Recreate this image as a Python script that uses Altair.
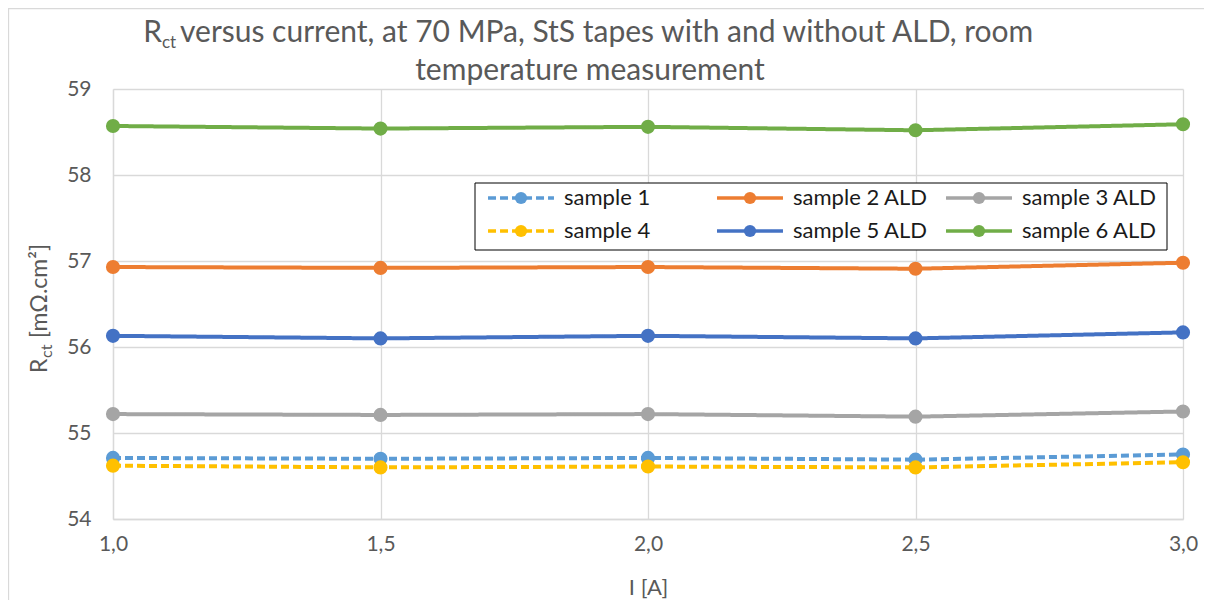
import altair as alt
import pandas as pd

# ---- data ----
currents = [1.0, 1.5, 2.0, 2.5, 3.0]
series_names = ["sample 1", "sample 2 ALD", "sample 3 ALD", "sample 4", "sample 5 ALD", "sample 6 ALD"]
sample1 = [54.71, 54.70, 54.71, 54.69, 54.75]
sample2 = [56.93, 56.92, 56.93, 56.91, 56.98]
sample3 = [55.22, 55.21, 55.22, 55.19, 55.25]
sample4 = [54.62, 54.60, 54.61, 54.60, 54.66]
sample5 = [56.13, 56.10, 56.13, 56.10, 56.17]
sample6 = [58.57, 58.54, 58.56, 58.52, 58.59]
series_values = [sample1, sample2, sample3, sample4, sample5, sample6]
series_styles = ["dash", "solid", "solid", "dash", "solid", "solid"]
series_colors = ["#5B9BD5", "#ED7D31", "#A5A5A5", "#FFC000", "#4472C4", "#70AD47"]
x_ticks = [1.0, 1.5, 2.0, 2.5, 3.0]
y_ticks = [54, 55, 56, 57, 58, 59]

rows = []
for order, (name, vals, sty) in enumerate(zip(series_names, series_values, series_styles)):
    for c, v in zip(currents, vals):
        rows.append({"series": name, "I": c, "R": v, "style": sty, "order": order})
df = pd.DataFrame(rows)

# legend table: 3 columns x 2 rows (Excel order: row-major)
leg_rows = []
for i, (name, sty) in enumerate(zip(series_names, series_styles)):
    leg_rows.append({"series": name, "style": sty, "col": i % 3, "row": i // 3})
leg_df = pd.DataFrame(leg_rows)

W, H = 1070, 430
FONT = "Lato"
GREY = "#595959"
GRID = "#D9D9D9"

color = alt.Color("series:N", scale=alt.Scale(domain=series_names, range=series_colors), legend=None)
dash = alt.StrokeDash("style:N", scale=alt.Scale(domain=["dash", "solid"], range=[[8, 4], [1, 0]]), legend=None)

xenc = alt.X("I:Q", scale=alt.Scale(domain=[1, 3], nice=False, zero=False),
             axis=alt.Axis(values=x_ticks, labelExpr="replace(format(datum.value, '.1f'), '.', ',')",
                           grid=True, gridColor=GRID, gridWidth=1.3, ticks=False,
                           domainColor=GRID, domainWidth=1.3, labelFlush=False,
                           labelFont=FONT, labelFontSize=21, labelColor=GREY, labelPadding=14,
                           title="I [A]", titleFont=FONT, titleFontSize=22, titleFontWeight="normal",
                           titleColor=GREY, titlePadding=23))
yenc = alt.Y("R:Q", scale=alt.Scale(domain=[54, 59], nice=False, zero=False),
             axis=alt.Axis(values=y_ticks, format="d", grid=True, gridColor=GRID, gridWidth=1.3,
                           ticks=False, domainColor=GRID, domainWidth=1.3,
                           labelFont=FONT, labelFontSize=21, labelColor=GREY, labelPadding=22,
                           title=None))

one = alt.Data(values=[{}])

border = alt.Chart(one).mark_rect(fill="transparent", stroke=GRID, strokeWidth=1.3).encode(
    x=alt.value(-104.5), x2=alt.value(W + 40), y=alt.value(-80.5), y2=alt.value(H + 100))

lines = alt.Chart(df).mark_line(strokeWidth=4).encode(
    x=xenc, y=yenc, color=color, strokeDash=dash, detail="series:N")
points = alt.Chart(df).mark_circle(size=200, opacity=1).encode(
    x="I:Q", y="R:Q", color=color, order="order:Q")

main = alt.layer(lines, points)

# ---- legend drawn from the legend table ----
leg_x = alt.Scale(domain=[0, 2], range=[408, 866])
leg_y = alt.Scale(domain=[0, 1], range=[109, 142])
leg_base = alt.Chart(leg_df).transform_calculate(
    x1="datum.col - 0.144", x2="datum.col + 0.144", xt="datum.col + 0.188")
leg_box = alt.Chart(one).mark_rect(fill="white", stroke="black", strokeWidth=1).encode(
    x=alt.value(362), x2=alt.value(1054), y=alt.value(94), y2=alt.value(161))
leg_lines = leg_base.mark_rule(strokeWidth=3.5).encode(
    x=alt.X("x1:Q", scale=leg_x, axis=None), x2="x2:Q",
    y=alt.Y("row:Q", scale=leg_y, axis=None), color=color, strokeDash=dash)
leg_pts = leg_base.mark_circle(size=150, opacity=1).encode(
    x=alt.X("col:Q", scale=leg_x, axis=None), y=alt.Y("row:Q", scale=leg_y, axis=None), color=color)
leg_txt = leg_base.mark_text(align="left", baseline="middle", font=FONT, fontSize=22, color="#1a1a1a").encode(
    x=alt.X("xt:Q", scale=leg_x, axis=None), y=alt.Y("row:Q", scale=leg_y, axis=None), text="series:N")
legend = alt.layer(leg_box, leg_lines, leg_pts, leg_txt)

# ---- title with subscript ----
TF = 30
tR = alt.Chart(one).mark_text(text="R", align="right", baseline="alphabetic", font=FONT, fontSize=TF, color=GREY).encode(
    x=alt.value(49), y=alt.value(-47))
tct = alt.Chart(one).mark_text(text="ct", align="left", baseline="alphabetic", font=FONT, fontSize=17, dy=6, color=GREY).encode(
    x=alt.value(49), y=alt.value(-47))
trest = alt.Chart(one).mark_text(text="versus current, at 70 MPa, StS tapes with and without ALD, room",
                                 align="left", baseline="alphabetic", font=FONT, fontSize=TF, color=GREY).encode(
    x=alt.value(67), y=alt.value(-47))
tline2 = alt.Chart(one).mark_text(text="temperature measurement", align="center", baseline="alphabetic",
                                  font=FONT, fontSize=TF, color=GREY).encode(
    x=alt.value(477), y=alt.value(-9))

# ---- y-axis title with subscript (reads bottom to top) ----
YF = 23
yR = alt.Chart(one).mark_text(text="R", angle=270, align="left", baseline="alphabetic", font=FONT, fontSize=YF, color=GREY).encode(
    x=alt.value(-66), y=alt.value(284))
yct = alt.Chart(one).mark_text(text="ct", angle=270, align="left", baseline="alphabetic", font=FONT, fontSize=16, dy=5, color=GREY).encode(
    x=alt.value(-66), y=alt.value(269))
yrest = alt.Chart(one).mark_text(text="[mΩ.cm²]", angle=270, align="left", baseline="alphabetic", font=FONT, fontSize=YF, color=GREY).encode(
    x=alt.value(-66), y=alt.value(249))

chart = alt.layer(
    border, main, legend, tR, tct, trest, tline2, yR, yct, yrest
).resolve_scale(x="independent", y="independent").properties(
    width=W, height=H,
    autosize=alt.AutoSizeParams(type="none"),
    padding={"left": 105, "top": 81, "right": 21, "bottom": 81},
).configure_view(stroke="transparent")

chart.save("out.html", embed_options={"renderer": "svg", "actions": False})
